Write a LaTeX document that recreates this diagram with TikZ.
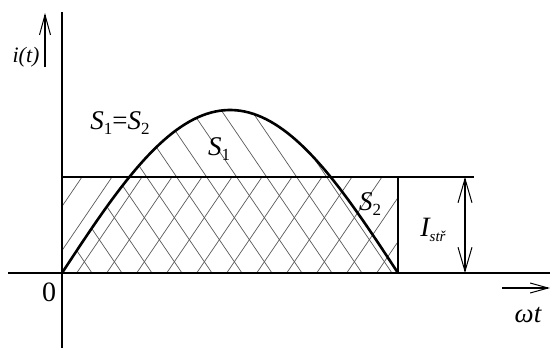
\documentclass[tikz,border=0pt]{standalone}
\usepackage{fontspec}
\setmainfont{Liberation Serif}
\usetikzlibrary{arrows.meta}
\newcommand{\lowsub}[2][17]{\raisebox{-0.35ex}{\fontsize{#1}{#1}\selectfont #2}}
\tikzset{
  axisline/.style={line width=1.4pt},
  hatch/.style={line width=0.7pt, black!65},
  curve/.style={line width=2.6pt},
  lbl/.style={inner sep=0pt, font=\fontsize{27}{27}\selectfont\itshape},
  openhead/.style={-{Straight Barb[length=20pt,width=11pt,line width=1pt]}, line width=1.2pt},
}
\begin{document}
\begin{tikzpicture}[x=1pt,y=-1pt]
\useasboundingbox (0,0) rectangle (550,348);
% hatching of rectangle (/ lines)
\begin{scope}
  \clip (62,177) rectangle (398,273);
  \foreach \k in {-4,...,12} \draw[hatch] ({76.7+30*\k},273) -- ++(65.3,-96);
\end{scope}
% hatching of sine area (\ lines)
\begin{scope}
  \clip (62,273) -- plot[domain=0:180,samples=80] ({62+1.866667*\x},{273-163*sin(\x)}) -- cycle;
  \foreach \k in {-1,...,17} \draw[hatch] ({62+30*\k},273) -- ++(-110.9,-163);
\end{scope}
% axes
\coordinate (ytop) at (62,12);
\coordinate (ybot) at (62,348);
\coordinate (xl) at (8,273);
\coordinate (xr) at (550,273);
\draw[axisline] (ybot) -- (ytop);
\draw[axisline] (xl) -- (xr);
% rectangle
\coordinate (rtl) at (62,177);
\coordinate (rtr) at (398,177);
\coordinate (rbr) at (398,273);
\coordinate (rext) at (474,177);
\draw[line width=1.2pt] (rtl) -- (rext);
\draw[line width=1.2pt] (rtr) -- (rbr);
% sine curve
\draw[curve] plot[domain=0:180,samples=80] ({62+1.866667*\x},{273-163*sin(\x)});
% I_str arrow
\coordinate (ia) at (465,177);
\coordinate (ib) at (465,273);
\draw[line width=1.2pt, {Straight Barb[length=24pt,width=14pt,line width=1pt]}-{Straight Barb[length=24pt,width=14pt,line width=1pt]}] (ib) -- (ia);
% i(t) arrow
\coordinate (ita) at (45,67);
\coordinate (itb) at (45,13);
\draw[openhead] (ita) -- (itb);
% omega t arrow
\coordinate (wa) at (502,288);
\coordinate (wb) at (550,288);
\draw[line width=1.2pt, -{Straight Barb[length=18pt,width=10pt,line width=1pt]}] (wa) -- (wb);
% labels
\node[lbl, font=\fontsize{22}{22}\selectfont\itshape] (it) at (26,57) {i(t)};
\node[lbl, font=\fontsize{28}{28}\selectfont] (zero) at (49,292) {0};
\node[lbl] (eq) at (120,123) {S\lowsub{\upshape 1}\upshape{=}\itshape S\lowsub{\upshape 2}};
\node[lbl] (s1) at (219,149) {S\lowsub{\upshape 1}};
\node[lbl] (s2) at (370,204) {S\lowsub{\upshape 2}};
\node[lbl, font=\fontsize{28}{28}\selectfont\itshape] (istr) at (433,230) {I\lowsub[15]{stř}};
\node[lbl] (wt) at (528,315) {ωt};
\end{tikzpicture}
\end{document}
